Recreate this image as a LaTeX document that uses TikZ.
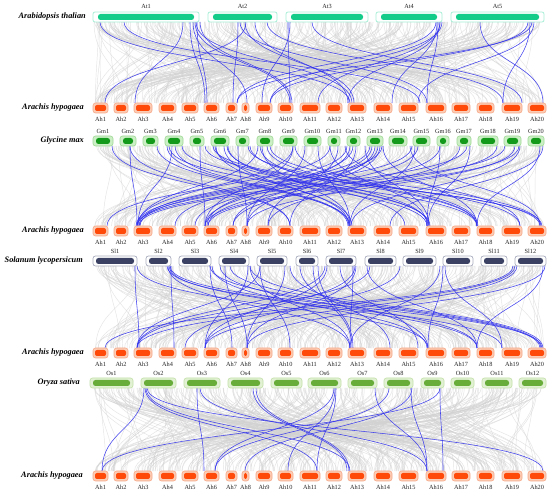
\documentclass[tikz,border=0pt]{standalone}
\usepackage{fontspec}
\setmainfont{Liberation Serif}
\definecolor{atin}{HTML}{14CC8A}
\definecolor{atout}{HTML}{A8EED6}
\definecolor{ahin}{HTML}{FF4A0A}
\definecolor{ahout}{HTML}{F6A888}
\definecolor{ahfill}{HTML}{FCCDB6}
\definecolor{gmin}{HTML}{139A1A}
\definecolor{gmout}{HTML}{9ED896}
\definecolor{gmfill}{HTML}{CDEFC6}
\definecolor{slin}{HTML}{3A4163}
\definecolor{slout}{HTML}{A9ADBE}
\definecolor{osin}{HTML}{68AC3A}
\definecolor{osout}{HTML}{C3E0A8}
\definecolor{osfill}{HTML}{E2F1D4}
\definecolor{linkblue}{HTML}{3030EE}
\definecolor{greyl}{HTML}{D2D2D2}
\newcommand\linkset[4]{%
  \foreach \a/\b in {#4}{\draw[#1] (\a,#2) .. controls (\a,{(#2+#3)/2}) and (\b,{(#2+#3)/2}) .. (\b,#3);}}
\newcommand\greyset[3]{%
  \foreach \i in {1,...,#3}{\pgfmathsetmacro\ga{94+450*rnd}\pgfmathsetmacro\gb{94+450*rnd}%
    \draw[grey link] (\ga,#1) .. controls (\ga,{(#1+#2)/2}) and (\gb,{(#1+#2)/2}) .. (\gb,#2);}}
\newcommand\chrrow[8]{% #1 name prefix, #2 label prefix, #3 y, #4 outer style, #5 inner style, #6 label dy, #7 inset, #8 list
  \foreach \n/\a/\b in {#8}{%
    \path[#4] (\a,#3-5) rectangle (\b,#3+5);
    \path[#5] (\a+#7,#3-3) rectangle (\b-#7,#3+3);
    \node[chrlab] (#1\n) at ({(\a+\b)/2},#3+#6) {#2\n};}}
\begin{document}
\begin{tikzpicture}[x=1pt,y=-1pt,
  blue link/.style={draw=linkblue, line width=0.55pt, opacity=0.9},
  grey link/.style={draw=greyl, line width=0.45pt, opacity=0.6},
  chrlab/.style={font=\fontsize{6.3}{7}\selectfont, inner sep=0pt, text=black!85},
  species/.style={font=\fontsize{8.3}{10}\selectfont\bfseries\itshape, anchor=east, inner sep=0pt},
  atbox/.style={draw=atout, fill=white, line width=0.8pt, rounded corners=2pt},
  atbar/.style={fill=atin, rounded corners=2.5pt},
  ahbox/.style={draw=ahout, fill=ahfill, line width=0.6pt, rounded corners=2.5pt},
  ahbar/.style={fill=ahin, rounded corners=2pt},
  gmbox/.style={draw=gmout, fill=gmfill, line width=0.6pt, rounded corners=2.5pt},
  gmbar/.style={fill=gmin, rounded corners=2.5pt},
  slbox/.style={draw=slout, fill=white, line width=0.7pt, rounded corners=2.5pt},
  slbar/.style={fill=slin, rounded corners=2.5pt},
  osbox/.style={draw=osout, fill=osfill, line width=0.6pt, rounded corners=2.5pt},
  osbar/.style={fill=osin, rounded corners=2.5pt}]
\useasboundingbox[fill=white] (0,0) rectangle (550,494);
\pgfmathsetseed{11}
% grey background links
\greyset{22}{103}{380}
\greyset{146}{226}{380}
\greyset{266}{348}{380}
\greyset{388}{471}{380}
% blue links: Arabidopsis -> Arachis
\linkset{blue link}{22}{103}{100/350, 124/420, 183/135, 190/205, 193/247, 195/290, 196/352, 197/207, 238/233, 246/105, 255/348, 267/503, 240/427, 288/290, 290/262, 312/522, 440/318, 440/348, 438/427, 436/237, 442/270, 437/392, 480/543, 528/270, 532/237, 534/418, 530/503, 200/292, 245/354}
% Glycine -> Arachis
\linkset{blue link}{146}{226}{112/290, 130/137, 157/350, 167/348, 169/427, 182/477, 200/205, 213/540, 216/352, 227/429, 238/247, 248/520, 258/138, 262/350, 267/477, 270/541, 293/137, 293/205, 305/247, 318/350, 330/107, 338/268, 347/139, 350/207, 353/175, 356/290, 370/136, 372/195, 375/233, 378/205, 380/247, 382/140, 412/137, 415/350, 418/208, 440/427, 440/233, 460/268, 467/137, 497/205, 505/139, 515/247, 520/351, 540/477, 543/390, 228/405, 215/430, 250/477, 175/349, 205/542, 330/427, 345/520, 295/478, 130/290, 172/138, 224/349, 260/428, 365/429, 383/477, 410/540, 470/428, 519/208}
% Solanum -> Arachis
\linkset{blue link}{266}{348}{135/139, 137/428, 168/350, 169/477, 170/542, 171/174, 167/502, 210/232, 210/540, 212/427, 220/477, 225/247, 230/541, 248/205, 250/350, 260/137, 260/290, 285/247, 290/428, 313/352, 318/353, 325/137, 327/205, 353/350, 355/185, 356/247, 367/477, 370/137, 443/428, 445/502, 513/105, 515/137, 517/205, 543/477, 545/247, 440/350, 400/205, 250/543, 300/390, 340/418}
% Oryza -> Arachis
\linkset{blue link}{388}{471}{144/102, 145/317, 146/350, 147/543, 197/204, 200/427, 253/347, 256/349, 335/288, 336/317, 334/215, 375/427, 389/215, 411/427, 412/245, 440/443, 440/102}
% chromosome rows
\chrrow{at}{At}{17}{atbox}{atbar}{-11}{5}{1/93/199, 2/208/277, 3/286/368, 4/376/442, 5/451/544}
\foreach \r/\y in {1/108, 2/231, 3/353, 4/476}{
  \chrrow{r\r ah}{Ah}{\y}{ahbox}{ahbar}{11}{2}{1/93/108, 2/114/128, 3/134/152, 4/159/176, 5/182/198, 6/204/219, 7/226/237, 8/242/249, 9/256/272, 10/278/293, 11/300/320, 12/326/342, 13/348/366, 14/374/392, 15/399/418, 16/426/446, 17/452/470, 18/477/494, 19/502/522, 20/528/546}
}
\chrrow{gm}{Gm}{141}{gmbox}{gmbar}{-10}{3}{1/93/113, 2/120/136, 3/143/158, 4/165/183, 5/190/204, 6/211/229, 7/236/249, 8/257/273, 9/280/297, 10/304/321, 11/328/340, 12/347/360, 13/367/383, 14/389/407, 15/413/430, 16/437/449, 17/457/471, 18/478/498, 19/504/521, 20/528/544}
\chrrow{sl}{Sl}{261}{slbox}{slbar}{-9.5}{3}{1/93/137, 2/146/171, 3/179/211, 4/219/249, 5/257/287, 6/296/318, 7/326/356, 8/365/396, 9/403/436, 10/443/473, 11/481/507, 12/515/546}
\chrrow{os}{Os}{383}{osbox}{osbar}{-9.5}{3}{1/90/133, 2/141/176, 3/184/220, 4/228/263, 5/271/302, 6/308/341, 7/348/377, 8/384/413, 9/421/444, 10/451/474, 11/482/512, 12/519/546}
% species labels
\node[species] (spAt) at (86,17) {Arabidopsis thalian};
\node[species] (spAh1) at (84,108) {Arachis hypogaea};
\node[species] (spGm) at (84,141) {Glycine max};
\node[species] (spAh2) at (84,231) {Arachis hypogaea};
\node[species] (spSl) at (83,261) {Solanum lycopersicum};
\node[species] (spAh3) at (84,353) {Arachis hypogaea};
\node[species] (spOs) at (80,383) {Oryza sativa};
\node[species] (spAh4) at (83,476) {Arachis hypogaea};
\end{tikzpicture}
\end{document}
